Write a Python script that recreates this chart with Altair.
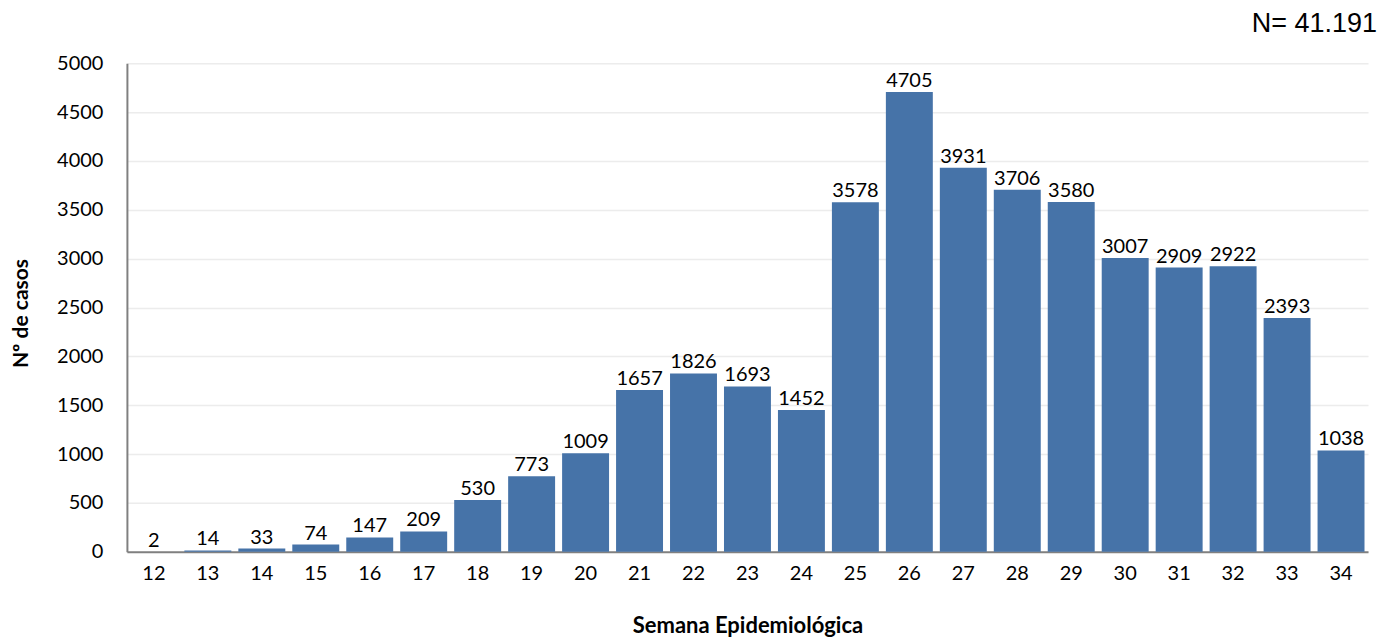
import altair as alt
import pandas as pd

semanas = [str(s) for s in range(12, 35)]
casos = [2, 14, 33, 74, 147, 209, 530, 773, 1009, 1657, 1826, 1693, 1452,
         3578, 4705, 3931, 3706, 3580, 3007, 2909, 2922, 2393, 1038]

df = pd.DataFrame({"semana": semanas, "casos": casos})

FONT = "Lato"

x = alt.X("semana:N", sort=semanas,
          scale=alt.Scale(paddingInner=0.13, paddingOuter=0.065),
          axis=alt.Axis(title="Semana Epidemiológica", labelAngle=0, ticks=False,
                        labelPadding=22, labelFontSize=20, labelFont=FONT,
                        labelBaseline="middle",
                        labelColor="#000000", domainColor="#808080", domainWidth=2,
                        titleFont=FONT, titleFontSize=22, titleFontWeight="bold",
                        titleColor="#000000", titleY=74, titleBaseline="middle"))
y = alt.Y("casos:Q",
          scale=alt.Scale(domain=[0, 5000], nice=False),
          axis=alt.Axis(title="Nº de casos", values=list(range(0, 5001, 500)),
                        format="d",
                        ticks=False, labelPadding=24, labelFontSize=20,
                        labelFont=FONT, labelColor="#000000",
                        domainColor="#808080", domainWidth=2,
                        gridColor="#ececec", gridWidth=1.5,
                        titleFont=FONT, titleFontSize=21, titleFontWeight="bold",
                        titleColor="#000000", titleX=-105, titleY=250,
                        titleAngle=-90, titleAlign="center", titleBaseline="middle"))

base = alt.Chart(df)
bars = base.mark_bar(color="#4673A8").encode(x=x, y=y)
labels = base.mark_text(dy=-11, fontSize=20, font=FONT, color="#000000").encode(
    x=alt.X("semana:N", sort=semanas), y="casos:Q", text="casos:Q")

n_df = pd.DataFrame({"t": ["N= 41.191"]})
ntext = alt.Chart(n_df).mark_text(align="right", baseline="middle", fontSize=27,
                                  font="Liberation Sans", color="#000000").encode(
    x=alt.value(1251), y=alt.value(-39), text="t:N")

chart = alt.layer(bars, labels, ntext).properties(
    width=1242, height=489,
    autosize=alt.AutoSizeParams(type="none"),
    padding={"left": 119, "top": 55, "right": 20, "bottom": 88},
).configure_view(stroke=None)

chart.save("out.html", embed_options={"renderer": "svg", "actions": False})
